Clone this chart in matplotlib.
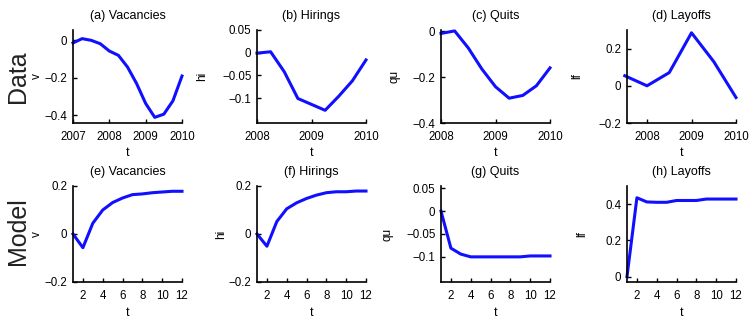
import numpy as np
import matplotlib
matplotlib.use("Agg")
import matplotlib.pyplot as plt

plt.rcParams["font.family"] = ["Liberation Sans", "DejaVu Sans"]

# ------------------------------------------------------------
# Data
# ------------------------------------------------------------
vac_years = [2007.0, 2007.25, 2007.5, 2007.75, 2008.0, 2008.25, 2008.5,
             2008.75, 2009.0, 2009.25, 2009.5, 2009.75, 2010.0]
vac_data = [-0.014, 0.009, 0.0, -0.018, -0.057, -0.08, -0.142,
            -0.23, -0.336, -0.41, -0.393, -0.322, -0.19]

hir_years = [2008.0, 2008.25, 2008.5, 2008.75, 2009.0, 2009.25, 2009.5, 2009.75, 2010.0]
hir_data = [-0.001, 0.002, -0.042, -0.101, -0.114, -0.127, -0.096, -0.062, -0.016]

quit_years = [2008.0, 2008.25, 2008.5, 2008.75, 2009.0, 2009.25, 2009.5, 2009.75, 2010.0]
quit_data = [-0.01, 0.001, -0.073, -0.165, -0.242, -0.292, -0.28, -0.238, -0.16]

lay_years = [2007.5, 2008.0, 2008.5, 2009.0, 2009.5, 2010.0]
lay_data = [0.054, 0.0, 0.071, 0.285, 0.13, -0.063]

t_model = [1, 2, 3, 4, 5, 6, 7, 8, 9, 10, 11, 12]
vac_model = [0.0, -0.057, 0.045, 0.1, 0.131, 0.15, 0.164, 0.167, 0.172, 0.175, 0.178, 0.178]
hir_model = [0.0, -0.051, 0.052, 0.105, 0.13, 0.148, 0.162, 0.172, 0.176, 0.176, 0.179, 0.179]
quit_model = [0.0, -0.081, -0.094, -0.1, -0.1, -0.1, -0.1, -0.1, -0.1, -0.098, -0.098, -0.098]
lay_model = [0.0, 0.435, 0.412, 0.41, 0.41, 0.42, 0.42, 0.42, 0.428, 0.428, 0.428, 0.428]

titles = ["(a) Vacancies", "(b) Hirings", "(c) Quits", "(d) Layoffs",
          "(e) Vacancies", "(f) Hirings", "(g) Quits", "(h) Layoffs"]
ylabels = ["v", "hi", "qu", "lf", "v", "hi", "qu", "lf"]

model_ticks = [2, 4, 6, 8, 10, 12]

# ------------------------------------------------------------
# Layout helpers (pixel boxes -> figure fractions)
# ------------------------------------------------------------
W, H = 751, 324
fig = plt.figure(figsize=(W / 100, H / 100), dpi=100)

col_left = [73, 257, 441, 627]
col_w = 109
rows = [(30, 123), (186, 282)]

def make_ax(r, c):
    top, bot = rows[r]
    return fig.add_axes([col_left[c] / W, 1 - bot / H, col_w / W, (bot - top) / H])

def style(ax, title, ylab, ylab_x):
    for s in ["top", "right"]:
        ax.spines[s].set_visible(False)
    for s in ["left", "bottom"]:
        ax.spines[s].set_linewidth(1.2)
    ax.tick_params(direction="in", length=3, width=1, labelsize=8.3)
    ax.tick_params(axis="x", pad=6)
    ax.tick_params(axis="y", pad=4)
    ax.set_title(title, fontsize=9, pad=8)
    ax.set_xlabel("t", fontsize=9, labelpad=3)
    ax.set_ylabel(ylab, fontsize=8.5)
    ax.yaxis.set_label_coords(ylab_x, 0.5)

line_kw = dict(color="#1010ff", lw=2.2, clip_on=False)

# ------------------------------------------------------------
# Data row
# ------------------------------------------------------------
ax = make_ax(0, 0)
ax.plot(vac_years, vac_data, **line_kw)
ax.set_xlim(2007, 2010)
ax.set_ylim(-0.44, 0.055)
ax.set_xticks([2007, 2008, 2009, 2010])
ax.set_yticks([-0.4, -0.2, 0])
ax.set_yticklabels(["\u22120.4", "\u22120.2", "0"])
style(ax, titles[0], ylabels[0], -0.28)

ax = make_ax(0, 1)
ax.plot(hir_years, hir_data, **line_kw)
ax.set_xlim(2008, 2010)
ax.set_ylim(-0.155, 0.05)
ax.set_xticks([2008, 2009, 2010])
ax.set_yticks([-0.1, -0.05, 0, 0.05])
ax.set_yticklabels(["\u22120.1", "\u22120.05", "0", "0.05"])
style(ax, titles[1], ylabels[1], -0.45)

ax = make_ax(0, 2)
ax.plot(quit_years, quit_data, **line_kw)
ax.set_xlim(2008, 2010)
ax.set_ylim(-0.4, 0.005)
ax.set_xticks([2008, 2009, 2010])
ax.set_yticks([-0.4, -0.2, 0])
ax.set_yticklabels(["\u22120.4", "\u22120.2", "0"])
style(ax, titles[2], ylabels[2], -0.37)

ax = make_ax(0, 3)
ax.plot(lay_years, lay_data, **line_kw)
ax.set_xlim(2007.55, 2010)
ax.set_ylim(-0.2, 0.3)
ax.set_xticks([2008, 2009, 2010])
ax.set_yticks([-0.2, 0, 0.2])
ax.set_yticklabels(["\u22120.2", "0", "0.2"])
style(ax, titles[3], ylabels[3], -0.40)

# ------------------------------------------------------------
# Model row
# ------------------------------------------------------------
ax = make_ax(1, 0)
ax.plot(t_model, vac_model, **line_kw)
ax.set_xlim(1, 12)
ax.set_ylim(-0.2, 0.2)
ax.set_xticks(model_ticks)
ax.set_yticks([-0.2, 0, 0.2])
ax.set_yticklabels(["\u22120.2", "0", "0.2"])
style(ax, titles[4], ylabels[4], -0.275)

ax = make_ax(1, 1)
ax.plot(t_model, hir_model, **line_kw)
ax.set_xlim(1, 12)
ax.set_ylim(-0.2, 0.2)
ax.set_xticks(model_ticks)
ax.set_yticks([-0.2, 0, 0.2])
ax.set_yticklabels(["\u22120.2", "0", "0.2"])
style(ax, titles[5], ylabels[5], -0.275)

ax = make_ax(1, 2)
ax.plot(t_model, quit_model, **line_kw)
ax.set_xlim(1, 12)
ax.set_ylim(-0.155, 0.055)
ax.set_xticks(model_ticks)
ax.set_yticks([-0.1, -0.05, 0, 0.05])
ax.set_yticklabels(["\u22120.1", "\u22120.05", "0", "0.05"])
style(ax, titles[6], ylabels[6], -0.44)

ax = make_ax(1, 3)
ax.plot(t_model, lay_model, **line_kw)
ax.set_xlim(1, 12)
ax.set_ylim(-0.03, 0.5)
ax.set_xticks(model_ticks)
ax.set_yticks([0, 0.2, 0.4])
ax.set_yticklabels(["0", "0.2", "0.4"])
style(ax, titles[7], ylabels[7], -0.36)

# Row labels
fig.text(18 / W, 1 - 77 / H, "Data", rotation=90, fontsize=18,
         color="#222222", ha="center", va="center")
fig.text(18 / W, 1 - 231 / H, "Model", rotation=90, fontsize=18,
         color="#222222", ha="center", va="center")

fig.savefig("out.png", dpi=100)
